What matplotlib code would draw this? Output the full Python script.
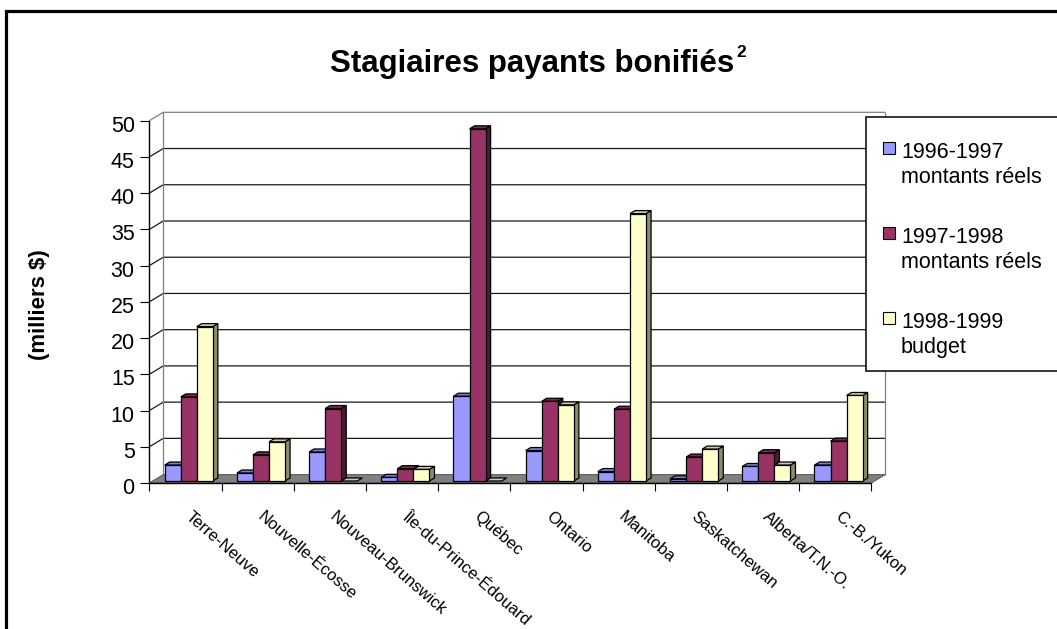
import matplotlib
matplotlib.use("Agg")
import matplotlib.pyplot as plt
from matplotlib.patches import Polygon, Rectangle
from matplotlib.lines import Line2D
from matplotlib.transforms import Affine2D, ScaledTranslation, offset_copy

# ---------------- data ----------------
categories = ["Terre-Neuve", "Nouvelle-Écosse", "Nouveau-Brunswick",
              "Île-du-Prince-Édouard", "Québec", "Ontario", "Manitoba",
              "Saskatchewan", "Alberta/T.N.-O.", "C.-B./Yukon"]
s1996_97 = [2.2, 1.1, 4.0, 0.5, 11.7, 4.2, 1.3, 0.3, 2.0, 2.2]
s1997_98 = [11.6, 3.6, 10.0, 1.7, 48.6, 11.0, 9.9, 3.3, 3.9, 5.5]
s1998_99 = [21.3, 5.4, 0.0, 1.6, 0.0, 10.5, 36.9, 4.4, 2.2, 11.8]
series_names = ["1996-1997\nmontants réels", "1997-1998\nmontants réels",
                "1998-1999\nbudget"]
y_ticks = [0, 5, 10, 15, 20, 25, 30, 35, 40, 45, 50]
title = "Stagiaires payants bonifiés"
title_sup = "2"
y_label = "(milliers $)"

# ---------------- style ----------------
FONT = "Liberation Sans"
plt.rcParams["font.family"] = [FONT, "DejaVu Sans"]
front_cols = ["#9999FF", "#993366", "#FFFFCC"]
top_cols = ["#7A7AD6", "#7A2952", "#CCCCA3"]
side_cols = ["#4D4D99", "#4D1A33", "#8C8C70"]

W, H = 1057, 629
fig = plt.figure(figsize=(W / 100, H / 100), dpi=100)
fig.patch.set_facecolor("white")
PIX = Affine2D().scale(1, -1).translate(0, H)   # image pixel coords (top-left origin)

x0px, x1px = 149.3, 871.3
y0px, ytpx = 483.0, 120.7
ax = fig.add_axes([x0px / W, (H - y0px) / H, (x1px - x0px) / W, (y0px - ytpx) / H])
ncat = len(categories)
ymax = y_ticks[-1]
ax.set_xlim(0, ncat)
ax.set_ylim(0, ymax)
ax.patch.set_visible(False)

ppc = (x1px - x0px) / ncat
ppu = (y0px - ytpx) / ymax
DX = 14.0 / ppc
DY = 8.4 / ppu

# floor
ax.add_patch(Polygon([(0, 0), (ncat, 0), (ncat + DX, DY), (DX, DY)],
                     closed=True, facecolor="#808080", edgecolor="#555555",
                     lw=0.7, zorder=2, clip_on=False))
# walls & gridlines
grid_kw = dict(lw=0.9, solid_capstyle="butt", clip_on=False, zorder=1)
for v in y_ticks[1:]:
    col = "#808080" if v == ymax else "#1a1a1a"
    ax.add_line(Line2D([0, DX, ncat + DX], [v, v + DY, v + DY], color=col, **grid_kw))
ax.add_line(Line2D([DX, DX], [DY, ymax + DY], color="#808080", **grid_kw))
ax.add_line(Line2D([ncat + DX, ncat + DX], [DY, ymax + DY], color="#808080", **grid_kw))

# bars
series = [s1996_97, s1997_98, s1998_99]
w = 1 / 4.5
f0, f1 = 0.24, 0.60
d = f1 - f0
for c in range(ncat):
    for j, vals in enumerate(series):
        v = vals[c]
        xl = c + 0.75 * w + j * w + f0 * DX
        xr = xl + w
        yb = f0 * DY
        yt = yb + v
        z = 10 + c * 3 + j
        ek = dict(edgecolor="black", lw=0.9, clip_on=False, zorder=z, joinstyle="miter")
        if v > 0:
            ax.add_patch(Polygon([(xr, yb), (xr + d * DX, yb + d * DY),
                                  (xr + d * DX, yt + d * DY), (xr, yt)],
                                 closed=True, facecolor=side_cols[j], **ek))
        ax.add_patch(Polygon([(xl, yt), (xr, yt), (xr + d * DX, yt + d * DY),
                              (xl + d * DX, yt + d * DY)],
                             closed=True, facecolor=top_cols[j], **ek))
        if v > 0:
            ax.add_patch(Rectangle((xl, yb), w, v, facecolor=front_cols[j], **ek))

# axes lines and ticks
for s in ["top", "right"]:
    ax.spines[s].set_visible(False)
for s in ["left", "bottom"]:
    ax.spines[s].set_color("black")
    ax.spines[s].set_linewidth(1.0)
    ax.spines[s].set_zorder(50)
ax.set_yticks(y_ticks)
ax.set_yticklabels([str(t) for t in y_ticks])
ax.tick_params(axis="y", direction="out", length=6.5, width=0.8, pad=4,
               labelsize=15.5, colors="black")
ax.set_xticks(range(ncat + 1))
ax.set_xticklabels([])
ax.tick_params(axis="x", direction="out", length=6, width=0.8, colors="black")
for lab in ax.get_yticklabels():
    lab.set_transform(lab.get_transform() + ScaledTranslation(0, -3 / 100, fig.dpi_scale_trans))

# category labels
for c, name in enumerate(categories):
    tr = offset_copy(ax.transData, fig=fig, x=7, y=-26, units="dots")
    ax.text(c + 0.5, 0, name, transform=tr, rotation=-41, rotation_mode="anchor",
            ha="left", va="top", fontsize=12, color="black", clip_on=False)

# y label
fig.text(40, 305, y_label, transform=PIX, rotation=90, ha="center", va="center",
         fontsize=16, fontweight="bold")

# title
t = fig.text(532.5, 72, title, transform=PIX, ha="center", va="baseline",
             fontsize=22.5, fontweight="bold")
fig.canvas.draw()
bb = t.get_window_extent()
fig.text(bb.x1 + 2, H - 72 + 15.3, title_sup, ha="left", va="baseline",
         fontsize=12.5, fontweight="bold", transform=None)

# legend
fig.add_artist(Rectangle((866, 117.3), 260, 253.4, transform=PIX, facecolor="white",
                         edgecolor="black", lw=1.1, zorder=60))
for j, name in enumerate(series_names):
    top = 141.7 + 85 * j
    fig.add_artist(Rectangle((883, top), 12, 12, transform=PIX, facecolor=front_cols[j],
                             edgecolor="black", lw=0.8, zorder=61))
    for k, line in enumerate(name.split("\n")):
        fig.text(901, top + 16.5 + 24.5 * k, line, transform=PIX, ha="left",
                 va="baseline", fontsize=15.5, zorder=62)

# outer frame (cropped on right/bottom)
fig.add_artist(Line2D([5.5, 5.5, 1080], [700, 10.7, 10.7], transform=PIX,
                      color="black", lw=2.3, solid_joinstyle="miter", zorder=70))

fig.savefig("out.png", dpi=100, facecolor="white")
